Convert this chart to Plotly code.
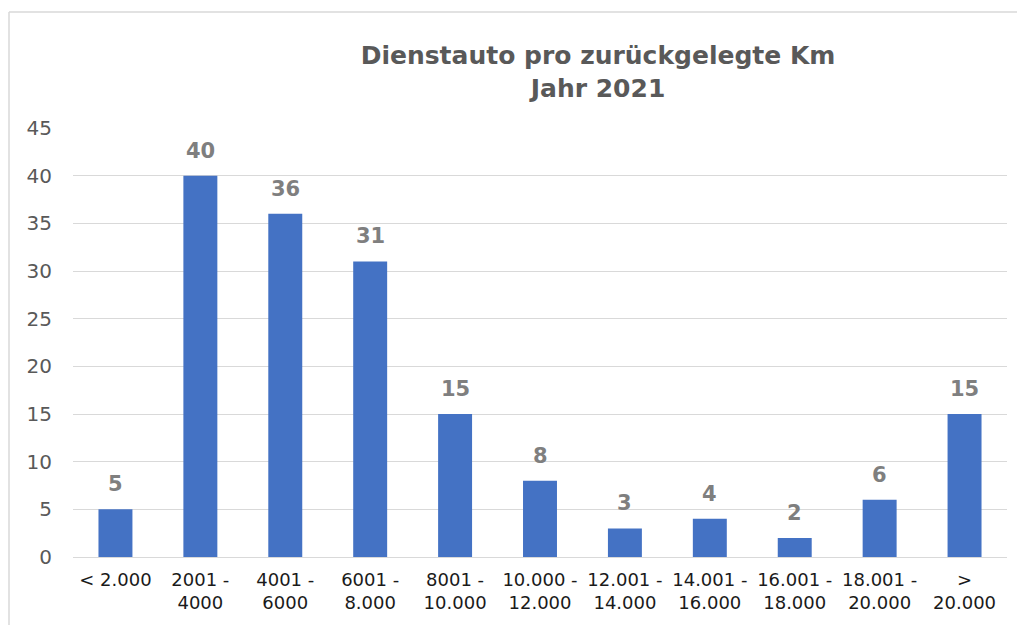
import plotly.graph_objects as go

categories = ["< 2.000", "2001 -<br>4000", "4001 -<br>6000", "6001 -<br>8.000",
              "8001 -<br>10.000", "10.000 -<br>12.000", "12.001 -<br>14.000",
              "14.001 -<br>16.000", "16.001 -<br>18.000", "18.001 -<br>20.000",
              "><br>20.000"]
values = [5, 40, 36, 31, 15, 8, 3, 4, 2, 6, 15]
y_ticks = [0, 5, 10, 15, 20, 25, 30, 35, 40, 45]

# page body adds an 8px offset; compensate so the picture lines up
OFF = 8
W, H = 1025, 625
L, R, T, B = 73 - OFF, 18 + OFF, 128 - OFF, 68 + OFF
pw, ph = W - L - R, H - T - B

def px_x(p):
    return (p - OFF - L) / pw

def px_y(p):
    return (H - B - (p - OFF)) / ph

fig = go.Figure(go.Bar(
    x=categories, y=values,
    marker=dict(color="#4472C4", line=dict(width=0)),
    cliponaxis=False,
))

for c, v in zip(categories, values):
    fig.add_annotation(x=c, y=v, text=f"<b>{v}</b>", showarrow=False,
                       yanchor="middle", yshift=25,
                       font=dict(family="DejaVu Sans", size=21, color="#7F7F7F"))

border = dict(color="#D9D9D9", width=1.5)
fig.update_layout(
    width=W, height=H,
    margin=dict(l=L, r=R, t=T, b=B),
    paper_bgcolor="white", plot_bgcolor="white",
    bargap=0.6,
    showlegend=False,
    title=dict(text="<b>Dienstauto pro zurückgelegte Km<br>Jahr 2021</b>",
               x=(598 - OFF) / W, xanchor="center",
               y=1 - (64 - OFF) / H, yanchor="middle",
               font=dict(family="DejaVu Sans", size=25, color="#595959")),
    font=dict(family="DejaVu Sans"),
    xaxis=dict(tickfont=dict(size=18, color="#1A1A1A"), showgrid=False,
               showline=False, ticks="", ticklabelstandoff=10),
    yaxis=dict(range=[0, 45], tickvals=y_ticks, showgrid=True,
               gridcolor="#D9D9D9", gridwidth=1, zeroline=True,
               zerolinecolor="#D9D9D9", zerolinewidth=1,
               tickfont=dict(size=20, color="#595959"), ticks="",
               ticklabelstandoff=20),
    shapes=[
        dict(type="line", xref="paper", yref="paper",
             x0=px_x(9), x1=px_x(1040), y0=px_y(12), y1=px_y(12),
             line=border, layer="below"),
        dict(type="line", xref="paper", yref="paper",
             x0=px_x(9), x1=px_x(9), y0=px_y(12), y1=px_y(650),
             line=border, layer="below"),
    ],
)

fig.write_html("out.html")
